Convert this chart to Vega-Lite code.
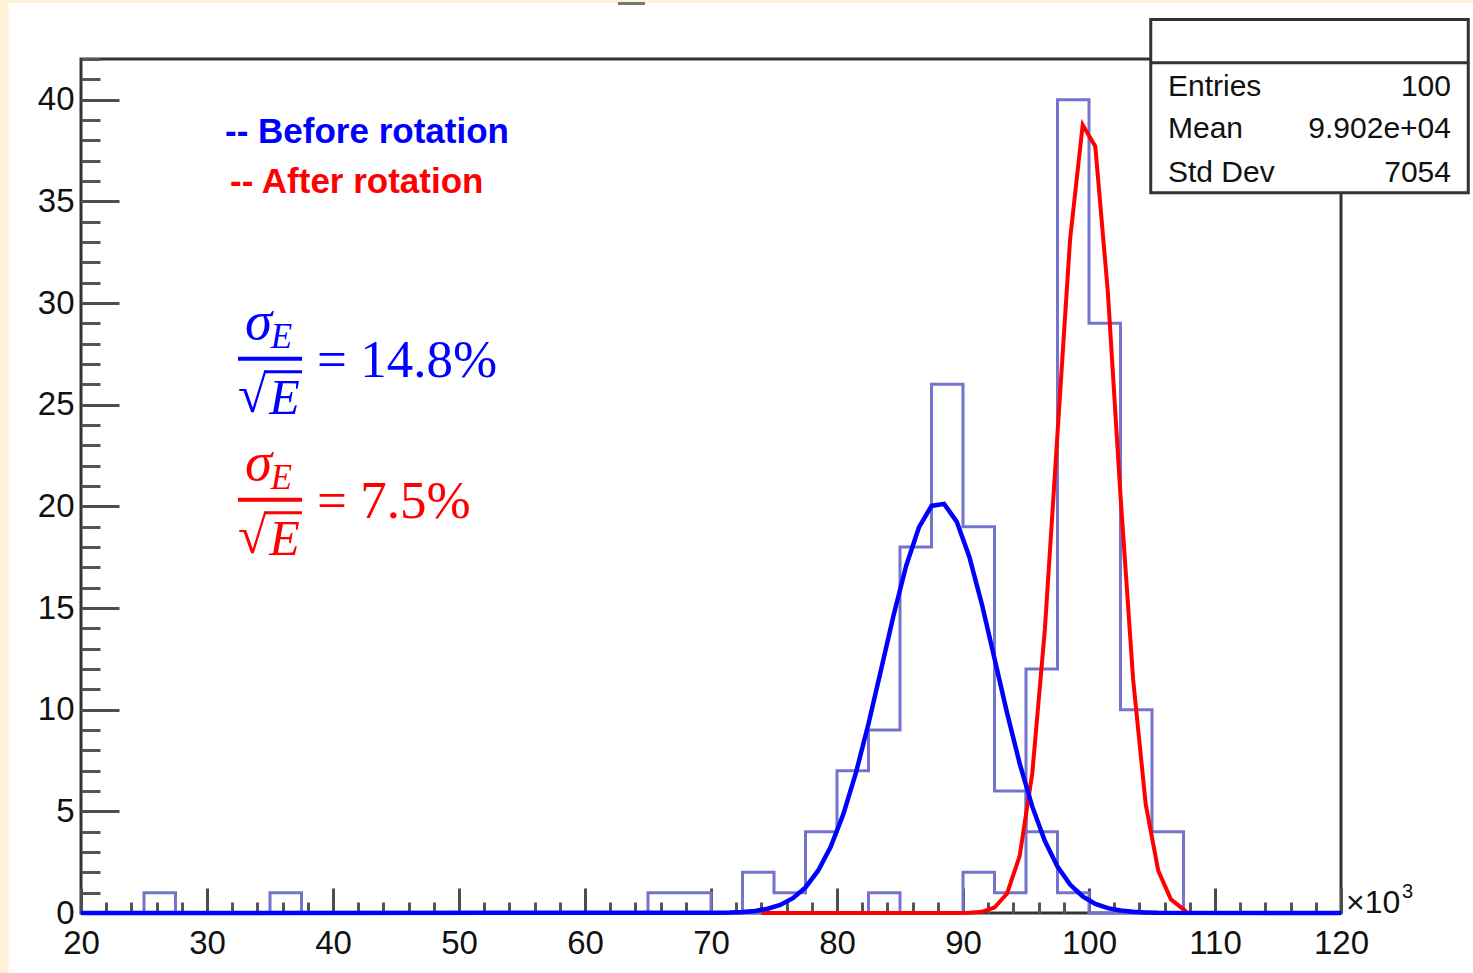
{
  "$schema": "https://vega.github.io/schema/vega-lite/v6.json",
  "autosize": {"type": "none"},
  "width": 1260,
  "height": 854,
  "padding": {"left": 81, "top": 59, "right": 132, "bottom": 60},
  "background": "white",
  "config": {
    "view": {"stroke": "#333333", "strokeWidth": 3},
    "axis": {"grid": false, "domain": false, "title": null}
  },
  "data": {"values": [{}]},
  "datasets": {
    "hist": [
      {"series": "before", "x0": 20, "count": 0}, {"series": "before", "x0": 22.5, "count": 0},
      {"series": "before", "x0": 25, "count": 1}, {"series": "before", "x0": 27.5, "count": 0},
      {"series": "before", "x0": 30, "count": 0}, {"series": "before", "x0": 32.5, "count": 0},
      {"series": "before", "x0": 35, "count": 0}, {"series": "before", "x0": 37.5, "count": 0},
      {"series": "before", "x0": 40, "count": 0}, {"series": "before", "x0": 42.5, "count": 0},
      {"series": "before", "x0": 45, "count": 0}, {"series": "before", "x0": 47.5, "count": 0},
      {"series": "before", "x0": 50, "count": 0}, {"series": "before", "x0": 52.5, "count": 0},
      {"series": "before", "x0": 55, "count": 0}, {"series": "before", "x0": 57.5, "count": 0},
      {"series": "before", "x0": 60, "count": 0}, {"series": "before", "x0": 62.5, "count": 0},
      {"series": "before", "x0": 65, "count": 1}, {"series": "before", "x0": 67.5, "count": 1},
      {"series": "before", "x0": 70, "count": 0}, {"series": "before", "x0": 72.5, "count": 2},
      {"series": "before", "x0": 75, "count": 1}, {"series": "before", "x0": 77.5, "count": 4},
      {"series": "before", "x0": 80, "count": 7}, {"series": "before", "x0": 82.5, "count": 9},
      {"series": "before", "x0": 85, "count": 18}, {"series": "before", "x0": 87.5, "count": 26},
      {"series": "before", "x0": 90, "count": 19}, {"series": "before", "x0": 92.5, "count": 6},
      {"series": "before", "x0": 95, "count": 4}, {"series": "before", "x0": 97.5, "count": 1},
      {"series": "before", "x0": 100, "count": 0}, {"series": "before", "x0": 102.5, "count": 0},
      {"series": "before", "x0": 105, "count": 0}, {"series": "before", "x0": 107.5, "count": 0},
      {"series": "before", "x0": 110, "count": 0}, {"series": "before", "x0": 112.5, "count": 0},
      {"series": "before", "x0": 115, "count": 0}, {"series": "before", "x0": 117.5, "count": 0},
      {"series": "after", "x0": 20, "count": 0}, {"series": "after", "x0": 22.5, "count": 0},
      {"series": "after", "x0": 25, "count": 0}, {"series": "after", "x0": 27.5, "count": 0},
      {"series": "after", "x0": 30, "count": 0}, {"series": "after", "x0": 32.5, "count": 0},
      {"series": "after", "x0": 35, "count": 1}, {"series": "after", "x0": 37.5, "count": 0},
      {"series": "after", "x0": 40, "count": 0}, {"series": "after", "x0": 42.5, "count": 0},
      {"series": "after", "x0": 45, "count": 0}, {"series": "after", "x0": 47.5, "count": 0},
      {"series": "after", "x0": 50, "count": 0}, {"series": "after", "x0": 52.5, "count": 0},
      {"series": "after", "x0": 55, "count": 0}, {"series": "after", "x0": 57.5, "count": 0},
      {"series": "after", "x0": 60, "count": 0}, {"series": "after", "x0": 62.5, "count": 0},
      {"series": "after", "x0": 65, "count": 0}, {"series": "after", "x0": 67.5, "count": 0},
      {"series": "after", "x0": 70, "count": 0}, {"series": "after", "x0": 72.5, "count": 0},
      {"series": "after", "x0": 75, "count": 0}, {"series": "after", "x0": 77.5, "count": 0},
      {"series": "after", "x0": 80, "count": 0}, {"series": "after", "x0": 82.5, "count": 1},
      {"series": "after", "x0": 85, "count": 0}, {"series": "after", "x0": 87.5, "count": 0},
      {"series": "after", "x0": 90, "count": 2}, {"series": "after", "x0": 92.5, "count": 1},
      {"series": "after", "x0": 95, "count": 12}, {"series": "after", "x0": 97.5, "count": 40},
      {"series": "after", "x0": 100, "count": 29}, {"series": "after", "x0": 102.5, "count": 10},
      {"series": "after", "x0": 105, "count": 4}, {"series": "after", "x0": 107.5, "count": 0},
      {"series": "after", "x0": 110, "count": 0}, {"series": "after", "x0": 112.5, "count": 0},
      {"series": "after", "x0": 115, "count": 0}, {"series": "after", "x0": 117.5, "count": 0}
    ],
    "fitBefore": [
      {"e": 20, "n": 0}, {"e": 70.5, "n": 0.01}, {"e": 71.5, "n": 0.02}, {"e": 72.5, "n": 0.05},
      {"e": 73.5, "n": 0.10}, {"e": 74.5, "n": 0.21}, {"e": 75.5, "n": 0.40}, {"e": 76.5, "n": 0.73},
      {"e": 77.5, "n": 1.26}, {"e": 78.5, "n": 2.08}, {"e": 79.5, "n": 3.25}, {"e": 80.5, "n": 4.85},
      {"e": 81.5, "n": 6.89}, {"e": 82.5, "n": 9.31}, {"e": 83.5, "n": 11.98}, {"e": 84.5, "n": 14.67},
      {"e": 85.5, "n": 17.10}, {"e": 86.5, "n": 18.96}, {"e": 87.5, "n": 20.02}, {"e": 88.5, "n": 20.12},
      {"e": 89.5, "n": 19.25}, {"e": 90.5, "n": 17.52}, {"e": 91.5, "n": 15.18}, {"e": 92.5, "n": 12.52},
      {"e": 93.5, "n": 9.83}, {"e": 94.5, "n": 7.35}, {"e": 95.5, "n": 5.23}, {"e": 96.5, "n": 3.54},
      {"e": 97.5, "n": 2.28}, {"e": 98.5, "n": 1.40}, {"e": 99.5, "n": 0.82}, {"e": 100.5, "n": 0.45},
      {"e": 101.5, "n": 0.24}, {"e": 102.5, "n": 0.12}, {"e": 103.5, "n": 0.06}, {"e": 104.5, "n": 0.03},
      {"e": 105.5, "n": 0.01}, {"e": 120, "n": 0}
    ],
    "fitAfter": [
      {"e": 74, "n": 0}, {"e": 80.5, "n": 0}, {"e": 86.5, "n": 0}, {"e": 89.5, "n": 0},
      {"e": 90.5, "n": 0.01}, {"e": 91.5, "n": 0.06}, {"e": 92.5, "n": 0.27}, {"e": 93.5, "n": 0.96},
      {"e": 94.5, "n": 2.81}, {"e": 95.5, "n": 6.87}, {"e": 96.5, "n": 13.96}, {"e": 97.5, "n": 23.57},
      {"e": 98.5, "n": 33.14}, {"e": 99.5, "n": 38.76}, {"e": 100.5, "n": 37.70}, {"e": 101.5, "n": 30.51},
      {"e": 102.5, "n": 20.53}, {"e": 103.5, "n": 11.50}, {"e": 104.5, "n": 5.35}, {"e": 105.5, "n": 2.07},
      {"e": 106.5, "n": 0.67}, {"e": 107.5, "n": 0.18}, {"e": 107.8, "n": 0.0}
    ]
  },
  "resolve": {"axis": {"x": "independent", "y": "independent"}},
  "layer": [
    {
      "mark": {"type": "rect", "color": "#fdf2d5", "clip": false},
      "encoding": {
        "x": {"datum": 13, "type": "quantitative",
              "scale": {"domain": [20, 120], "nice": false, "zero": false},
              "axis": {"orient": "bottom", "values": [20, 22, 24, 26, 28, 30, 32, 34, 36, 38, 40, 42, 44, 46, 48, 50, 52, 54, 56, 58, 60, 62, 64, 66, 68, 70, 72, 74, 76, 78, 80, 82, 84, 86, 88, 90, 92, 94, 96, 98, 100, 102, 104, 106, 108, 110, 112, 114, 116, 118, 120],
                       "tickSize": -11, "tickWidth": 3, "tickColor": "#555555", "labels": false, "domain": false, "grid": false}},
        "x2": {"datum": 14.25},
        "y": {"datum": -4, "type": "quantitative",
              "scale": {"domain": [0, 42], "nice": false, "zero": false},
              "axis": {"orient": "left", "values": [0, 1, 2, 3, 4, 5, 6, 7, 8, 9, 10, 11, 12, 13, 14, 15, 16, 17, 18, 19, 20, 21, 22, 23, 24, 25, 26, 27, 28, 29, 30, 31, 32, 33, 34, 35, 36, 37, 38, 39, 40, 41, 42],
                       "tickSize": -19, "tickWidth": 3, "tickColor": "#555555", "labels": false, "domain": false, "grid": false}},
        "y2": {"datum": 46}
      }
    },
    {
      "mark": {"type": "rect", "color": "#fdf2d5", "clip": false},
      "encoding": {
        "x": {"datum": 13, "type": "quantitative", "axis": null},
        "x2": {"datum": 132},
        "y": {"datum": 44.75, "type": "quantitative", "axis": null},
        "y2": {"datum": 46}
      }
    },
    {
      "mark": {"type": "rule", "color": "#777777", "strokeWidth": 3, "clip": false},
      "encoding": {
        "x": {"datum": 62.62, "type": "quantitative", "axis": null},
        "x2": {"datum": 64.76},
        "y": {"datum": 44.73, "type": "quantitative", "axis": null}
      }
    },
    {
      "data": {"name": "hist"},
      "mark": {"type": "line", "interpolate": "step-after", "color": "#7474cf", "strokeWidth": 3, "clip": false},
      "encoding": {
        "x": {"field": "x0", "type": "quantitative",
              "axis": {"orient": "bottom", "values": [20, 30, 40, 50, 60, 70, 80, 90, 100, 110, 120],
                       "tickSize": -25, "tickWidth": 3, "tickColor": "#4d4d4d",
                       "labelPadding": 39, "labelFont": "Liberation Sans", "labelFontSize": 33, "labelColor": "#111111",
                       "labelFlush": false, "labelOverlap": false, "domain": false, "grid": false}},
        "y": {"field": "count", "type": "quantitative",
              "axis": {"orient": "left", "values": [0, 5, 10, 15, 20, 25, 30, 35, 40],
                       "tickSize": -38, "tickWidth": 3, "tickColor": "#4d4d4d",
                       "labelPadding": 45, "labelFont": "Liberation Sans", "labelFontSize": 33, "labelColor": "#111111",
                       "labelFlush": false, "labelOverlap": false, "domain": false, "grid": false}},
        "detail": {"field": "series", "type": "nominal"}
      }
    },
    {
      "data": {"name": "fitAfter"},
      "mark": {"type": "line", "color": "#ff0000", "strokeWidth": 4, "clip": false},
      "encoding": {
        "x": {"field": "e", "type": "quantitative", "axis": null},
        "y": {"field": "n", "type": "quantitative", "axis": null}
      }
    },
    {
      "data": {"name": "fitBefore"},
      "mark": {"type": "line", "color": "#0000ff", "strokeWidth": 4.5, "clip": false},
      "encoding": {
        "x": {"field": "e", "type": "quantitative", "axis": null},
        "y": {"field": "n", "type": "quantitative", "axis": null}
      }
    },
    {
      "mark": {"type": "rect", "fill": "white", "stroke": "#333333", "strokeWidth": 3, "clip": false},
      "encoding": {
        "x": {"datum": 104.9, "type": "quantitative", "axis": null},
        "x2": {"datum": 130.1},
        "y": {"datum": 35.42, "type": "quantitative", "axis": null},
        "y2": {"datum": 43.94}
      }
    },
    {
      "mark": {"type": "rule", "color": "#333333", "strokeWidth": 3, "clip": false},
      "encoding": {
        "x": {"datum": 104.9, "type": "quantitative", "axis": null},
        "x2": {"datum": 130.1},
        "y": {"datum": 41.82, "type": "quantitative", "axis": null}
      }
    },
    {
      "mark": {"type": "text", "text": "Entries", "align": "left", "baseline": "alphabetic", "font": "Liberation Sans", "fontSize": 30, "color": "#111111", "clip": false},
      "encoding": {"x": {"datum": 106.27, "type": "quantitative", "axis": null}, "y": {"datum": 40.2, "type": "quantitative", "axis": null}}
    },
    {
      "mark": {"type": "text", "text": "100", "align": "right", "baseline": "alphabetic", "font": "Liberation Sans", "fontSize": 30, "color": "#111111", "clip": false},
      "encoding": {"x": {"datum": 128.73, "type": "quantitative", "axis": null}, "y": {"datum": 40.2, "type": "quantitative", "axis": null}}
    },
    {
      "mark": {"type": "text", "text": "Mean", "align": "left", "baseline": "alphabetic", "font": "Liberation Sans", "fontSize": 30, "color": "#111111", "clip": false},
      "encoding": {"x": {"datum": 106.27, "type": "quantitative", "axis": null}, "y": {"datum": 38.13, "type": "quantitative", "axis": null}}
    },
    {
      "mark": {"type": "text", "text": "9.902e+04", "align": "right", "baseline": "alphabetic", "font": "Liberation Sans", "fontSize": 30, "color": "#111111", "clip": false},
      "encoding": {"x": {"datum": 128.73, "type": "quantitative", "axis": null}, "y": {"datum": 38.13, "type": "quantitative", "axis": null}}
    },
    {
      "mark": {"type": "text", "text": "Std Dev", "align": "left", "baseline": "alphabetic", "font": "Liberation Sans", "fontSize": 30, "color": "#111111", "clip": false},
      "encoding": {"x": {"datum": 106.27, "type": "quantitative", "axis": null}, "y": {"datum": 35.97, "type": "quantitative", "axis": null}}
    },
    {
      "mark": {"type": "text", "text": "7054", "align": "right", "baseline": "alphabetic", "font": "Liberation Sans", "fontSize": 30, "color": "#111111", "clip": false},
      "encoding": {"x": {"datum": 128.73, "type": "quantitative", "axis": null}, "y": {"datum": 35.97, "type": "quantitative", "axis": null}}
    },
    {
      "mark": {"type": "text", "text": "×10", "align": "left", "baseline": "alphabetic", "font": "Liberation Sans", "fontSize": 32, "color": "#111111", "dx": 5, "clip": false},
      "encoding": {"x": {"datum": 120, "type": "quantitative", "axis": null}, "y": {"datum": 0, "type": "quantitative", "axis": null}}
    },
    {
      "mark": {"type": "text", "text": "3", "align": "left", "baseline": "alphabetic", "font": "Liberation Sans", "fontSize": 20, "color": "#111111", "dx": 61, "dy": -15, "clip": false},
      "encoding": {"x": {"datum": 120, "type": "quantitative", "axis": null}, "y": {"datum": 0, "type": "quantitative", "axis": null}}
    },
    {
      "mark": {"type": "text", "text": "-- Before rotation", "align": "left", "baseline": "alphabetic", "font": "Liberation Sans", "fontWeight": "bold", "fontSize": 35, "color": "#0000ff", "clip": false},
      "encoding": {"x": {"datum": 31.43, "type": "quantitative", "axis": null}, "y": {"datum": 37.88, "type": "quantitative", "axis": null}}
    },
    {
      "mark": {"type": "text", "text": "-- After rotation", "align": "left", "baseline": "alphabetic", "font": "Liberation Sans", "fontWeight": "bold", "fontSize": 35, "color": "#ff0000", "clip": false},
      "encoding": {"x": {"datum": 31.83, "type": "quantitative", "axis": null}, "y": {"datum": 35.42, "type": "quantitative", "axis": null}}
    },
    {
      "mark": {"type": "text", "text": "σ", "align": "center", "baseline": "alphabetic", "font": "Liberation Serif", "fontStyle": "italic", "fontSize": 55, "color": "#0000ff", "clip": false},
      "encoding": {"x": {"datum": 34.1, "type": "quantitative", "axis": null}, "y": {"datum": 28.24, "type": "quantitative", "axis": null}}
    },
    {
      "mark": {"type": "text", "text": "E", "align": "left", "baseline": "alphabetic", "font": "Liberation Serif", "fontStyle": "italic", "fontSize": 35, "color": "#0000ff", "clip": false},
      "encoding": {"x": {"datum": 35.05, "type": "quantitative", "axis": null}, "y": {"datum": 27.8, "type": "quantitative", "axis": null}}
    },
    {
      "mark": {"type": "rule", "color": "#0000ff", "strokeWidth": 4, "clip": false},
      "encoding": {"x": {"datum": 32.46, "type": "quantitative", "axis": null}, "x2": {"datum": 37.54}, "y": {"datum": 27.26, "type": "quantitative", "axis": null}}
    },
    {
      "mark": {"type": "text", "text": "√", "align": "left", "baseline": "alphabetic", "font": "Liberation Serif", "fontSize": 52, "color": "#0000ff", "clip": false},
      "encoding": {"x": {"datum": 32.46, "type": "quantitative", "axis": null}, "y": {"datum": 24.65, "type": "quantitative", "axis": null}}
    },
    {
      "mark": {"type": "text", "text": "E", "align": "left", "baseline": "alphabetic", "font": "Liberation Serif", "fontStyle": "italic", "fontSize": 50, "color": "#0000ff", "clip": false},
      "encoding": {"x": {"datum": 34.95, "type": "quantitative", "axis": null}, "y": {"datum": 24.55, "type": "quantitative", "axis": null}}
    },
    {
      "mark": {"type": "rule", "color": "#0000ff", "strokeWidth": 3, "clip": false},
      "encoding": {"x": {"datum": 34.52, "type": "quantitative", "axis": null}, "x2": {"datum": 37.54}, "y": {"datum": 26.62, "type": "quantitative", "axis": null}}
    },
    {
      "mark": {"type": "text", "text": "= 14.8%", "align": "left", "baseline": "alphabetic", "font": "Liberation Serif", "fontSize": 53, "color": "#0000ff", "clip": false},
      "encoding": {"x": {"datum": 38.73, "type": "quantitative", "axis": null}, "y": {"datum": 26.37, "type": "quantitative", "axis": null}}
    },
    {
      "mark": {"type": "text", "text": "σ", "align": "center", "baseline": "alphabetic", "font": "Liberation Serif", "fontStyle": "italic", "fontSize": 55, "color": "#ff0000", "clip": false},
      "encoding": {"x": {"datum": 34.1, "type": "quantitative", "axis": null}, "y": {"datum": 21.3, "type": "quantitative", "axis": null}}
    },
    {
      "mark": {"type": "text", "text": "E", "align": "left", "baseline": "alphabetic", "font": "Liberation Serif", "fontStyle": "italic", "fontSize": 35, "color": "#ff0000", "clip": false},
      "encoding": {"x": {"datum": 35.05, "type": "quantitative", "axis": null}, "y": {"datum": 20.86, "type": "quantitative", "axis": null}}
    },
    {
      "mark": {"type": "rule", "color": "#ff0000", "strokeWidth": 4, "clip": false},
      "encoding": {"x": {"datum": 32.46, "type": "quantitative", "axis": null}, "x2": {"datum": 37.54}, "y": {"datum": 20.32, "type": "quantitative", "axis": null}}
    },
    {
      "mark": {"type": "text", "text": "√", "align": "left", "baseline": "alphabetic", "font": "Liberation Serif", "fontSize": 52, "color": "#ff0000", "clip": false},
      "encoding": {"x": {"datum": 32.46, "type": "quantitative", "axis": null}, "y": {"datum": 17.71, "type": "quantitative", "axis": null}}
    },
    {
      "mark": {"type": "text", "text": "E", "align": "left", "baseline": "alphabetic", "font": "Liberation Serif", "fontStyle": "italic", "fontSize": 50, "color": "#ff0000", "clip": false},
      "encoding": {"x": {"datum": 34.95, "type": "quantitative", "axis": null}, "y": {"datum": 17.61, "type": "quantitative", "axis": null}}
    },
    {
      "mark": {"type": "rule", "color": "#ff0000", "strokeWidth": 3, "clip": false},
      "encoding": {"x": {"datum": 34.52, "type": "quantitative", "axis": null}, "x2": {"datum": 37.54}, "y": {"datum": 19.68, "type": "quantitative", "axis": null}}
    },
    {
      "mark": {"type": "text", "text": "= 7.5%", "align": "left", "baseline": "alphabetic", "font": "Liberation Serif", "fontSize": 53, "color": "#ff0000", "clip": false},
      "encoding": {"x": {"datum": 38.73, "type": "quantitative", "axis": null}, "y": {"datum": 19.43, "type": "quantitative", "axis": null}}
    }
  ]
}
